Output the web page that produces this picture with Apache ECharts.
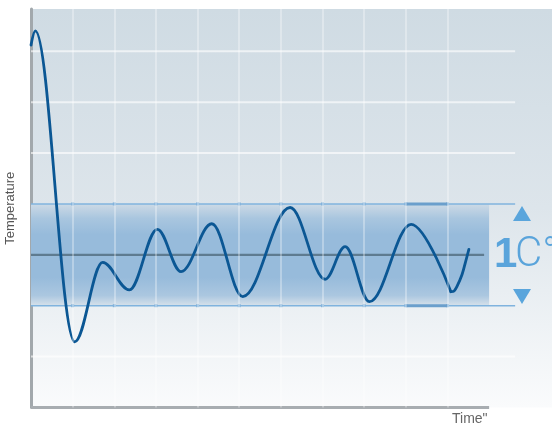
<!DOCTYPE html>
<html><head><meta charset="utf-8">
<script src="https://cdn.jsdelivr.net/npm/echarts@6/dist/echarts.min.js"></script>
<style>html,body{margin:0;padding:0;background:#fff}#c{width:552px;height:427px}</style>
</head><body><div id="c"></div>
<script>
// ---- data (turning points of the temperature trace) ----
const timeX = [0, 0.103, 1.050, 1.72, 2.361, 3.034, 3.603, 4.341, 5.085, 6.221, 7.062, 7.543, 8.126, 9.128, 10.082];
const temperature = [7.12, 7.40, 1.29, 2.85, 2.31, 3.50, 2.67, 3.61, 2.18, 3.93, 2.52, 3.16, 2.08, 3.60, 2.275];
// final rising stretch of the trace
const tailX = [10.082, 10.16, 10.226, 10.346, 10.425, 10.514];
const tailTemp = [2.275, 2.29, 2.373, 2.603, 2.833, 3.108];
const gridXs = [1,2,3,4,5,6,7,8,9,10];
const gridYs = [1,5,6,7];
const setpoint = 3;
const bandLow = 2, bandHigh = 4;
const axisEnd = 11;       // end of time axis line / band fill
const lineEnd = 11.625;   // end of horizontal guide lines
const setpointEnd = 10.88;
const highlightSeg = [9, 10];
const xMax = 12.51, yMax = 7.83;
const xName = 'Time"', yName = 'Temperature';
const bandLabelA = '1', bandLabelB = 'C°';

const chart = echarts.init(document.getElementById('c'));
const seg = (x0, x1, y) => [[x0, y], [x1, y]];
const series = [];
const curveStyle = {color: '#0b5794', width: 2.8, cap: 'round', join: 'round'};

series.push({
  type: 'line', data: [], silent: true,
  markArea: {
    silent: true,
    itemStyle: {
      color: new echarts.graphic.LinearGradient(0, 0, 0, 1, [
        {offset: 0, color: '#cddae6'},
        {offset: 0.14, color: '#a9c6df'},
        {offset: 0.3, color: '#97bbdb'},
        {offset: 0.72, color: '#97bbdb'},
        {offset: 0.9, color: '#abc7e0'},
        {offset: 1, color: '#d6e1ea'}
      ])
    },
    data: [[{coord: [0, bandLow]}, {coord: [axisEnd, bandHigh]}]]
  }
});
series.push({
  type: 'line', data: [], silent: true,
  markLine: {
    silent: true, symbol: 'none', label: {show: false},
    lineStyle: {color: 'rgba(255,255,255,0.42)', width: 1.5, type: 'solid'},
    data: gridXs.map(v => ({xAxis: v}))
  }
});
gridYs.forEach(v => series.push({
  type: 'line', data: seg(0, lineEnd, v), showSymbol: false, silent: true,
  lineStyle: {color: 'rgba(255,255,255,0.62)', width: 2}
}));
[bandLow, bandHigh].forEach(v => {
  series.push({
    type: 'line', data: seg(0, lineEnd, v), showSymbol: false, silent: true,
    lineStyle: {color: '#80b3de', width: 1.5}
  });
  series.push({
    type: 'line', data: seg(highlightSeg[0], highlightSeg[1], v), showSymbol: false, silent: true,
    lineStyle: {color: '#6b9fcc', width: 3}
  });
});
series.push({
  type: 'scatter', silent: true, symbol: 'rect', symbolSize: 3,
  itemStyle: {color: '#6fa4d2'},
  data: gridXs.flatMap(x => [[x, bandLow], [x, bandHigh]])
});
series.push({
  type: 'line', data: seg(0, setpointEnd, setpoint), showSymbol: false, silent: true,
  lineStyle: {color: '#5e7b90', width: 2.3}
});
series.push({
  type: 'line', data: timeX.map((x, i) => [x, temperature[i]]),
  smooth: 0.36, smoothMonotone: 'x', showSymbol: false, silent: true,
  lineStyle: curveStyle
});
series.push({
  type: 'line', data: tailX.map((x, i) => [x, tailTemp[i]]),
  smooth: 0.3, showSymbol: false, silent: true,
  lineStyle: curveStyle
});
series.push({
  type: 'line', data: seg(0, axisEnd, 0), showSymbol: false, silent: true, clip: false,
  lineStyle: {color: '#a8adb1', width: 3}
});

chart.setOption({
  animation: false,
  backgroundColor: '#ffffff',
  grid: {
    left: 31, right: 0, top: 9, bottom: 19.5, show: true, borderWidth: 0,
    outerBoundsMode: 'none', containLabel: false,
    backgroundColor: new echarts.graphic.LinearGradient(0, 0, 0, 1, [
      {offset: 0, color: '#cfdbe3'},
      {offset: 0.5, color: '#dde5eb'},
      {offset: 1, color: '#fafbfc'}
    ])
  },
  xAxis: {
    type: 'value', min: 0, max: xMax,
    axisLine: {show: false}, axisTick: {show: false}, axisLabel: {show: false}, splitLine: {show: false}
  },
  yAxis: {
    type: 'value', min: 0, max: yMax,
    name: yName, nameLocation: 'middle', nameGap: 14,
    nameTextStyle: {color: '#555', fontSize: 13, fontFamily: 'Liberation Sans'},
    axisLine: {show: true, lineStyle: {color: '#a2a8ac', width: 3}},
    axisTick: {show: false}, axisLabel: {show: false}, splitLine: {show: false}
  },
  series: series,
  graphic: [
    {type: 'text', left: 452, top: 412,
     style: {text: xName, fill: '#666', font: '14px "Liberation Sans"'}},
    {type: 'text', x: 494, y: 255,
     style: {text: bandLabelA, fill: '#5aa4db', font: 'bold 42px "Liberation Sans"', verticalAlign: 'middle'}},
    {type: 'text', x: 515, y: 255,
     style: {text: bandLabelB, fill: '#5aa4db', font: '300 42px Roboto', verticalAlign: 'middle'}},
    {type: 'polygon', shape: {points: [[513, 221], [531, 221], [522, 206]]}, style: {fill: '#5aa5dc'}},
    {type: 'polygon', shape: {points: [[513, 289], [531, 289], [522, 304]]}, style: {fill: '#5aa5dc'}}
  ]
});
</script></body></html>
